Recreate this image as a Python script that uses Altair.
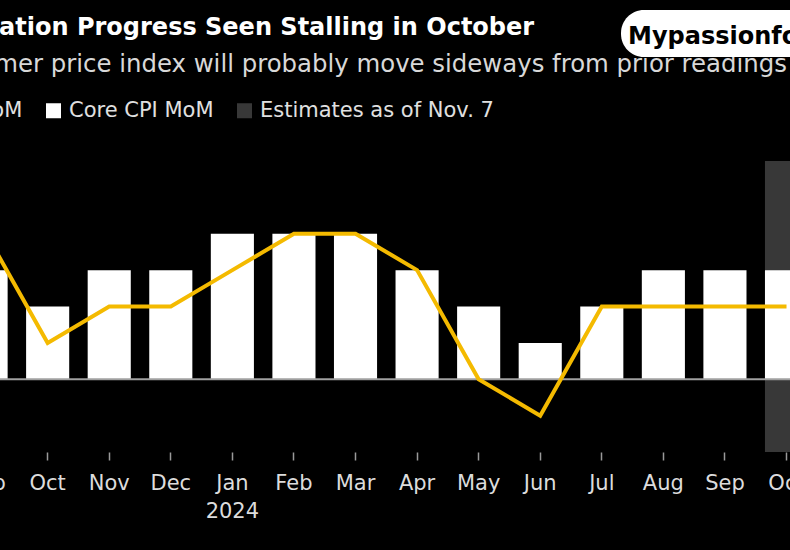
import altair as alt
import pandas as pd

# ---- data ----
months = ["Sep 2023", "Oct 2023", "Nov 2023", "Dec 2023", "Jan 2024", "Feb 2024",
          "Mar 2024", "Apr 2024", "May 2024", "Jun 2024", "Jul 2024", "Aug 2024",
          "Sep 2024", "Oct 2024"]
core_cpi = [0.3, 0.2, 0.3, 0.3, 0.4, 0.4, 0.4, 0.3, 0.2, 0.1, 0.2, 0.3, 0.3, 0.3]
cpi = [0.4, 0.1, 0.2, 0.2, 0.3, 0.4, 0.4, 0.3, 0.0, -0.1, 0.2, 0.2, 0.2, 0.2]
estimate_month = ["Oct 2024"]
estimate_top = [0.6]
estimate_bottom = [-0.2]
series_names = ["CPI MoM", "Core CPI MoM", "Estimates as of Nov. 7"]
series_colors = ["#F4BA00", "#FFFFFF", "#383838"]

title_text = "Inflation Progress Seen Stalling in October"
subtitle_text = "Consumer price index will probably move sideways from prior readings"
watermark_text = "Mypassionfo"

FONT = "DejaVu Sans"
W, H = 790, 452

bars_df = pd.DataFrame({"month": months, "value": core_cpi, "series": series_names[1]})
line_df = pd.DataFrame({"month": months, "value": cpi, "series": series_names[0]})
est_df = pd.DataFrame({"month": estimate_month, "top": estimate_top,
                       "bottom": estimate_bottom, "series": series_names[2]})

x_scale = alt.Scale(domain=months, range=[-44.7, 817.3], paddingInner=0.3, paddingOuter=0.15)
y_scale = alt.Scale(domain=[-0.2, 0.6], range=[452, 161], nice=False, zero=False)
color_scale = alt.Scale(domain=series_names, range=series_colors)

legend = alt.Legend(
    orient="none", legendX=-93, legendY=100, direction="horizontal",
    symbolType="square", symbolSize=225, symbolStrokeWidth=0, symbolOpacity=1,
    labelFont=FONT, labelFontSize=21, labelColor="#e0e0e0", labelOffset=5,
    columnPadding=20, padding=0, title=None, labelLimit=0,
)
color_enc = alt.Color("series:N", scale=color_scale, legend=legend)

x_axis = alt.Axis(
    title=None, domain=False, grid=False, ticks=True, tickColor="#9a9a9a",
    tickSize=8, tickWidth=1.5, labelFont=FONT, labelFontSize=21, labelAngle=0,
    labelColor="#dcdcdc", labelPadding=12, labelLineHeight=28,
    labelOverlap=False, labelFlush=False,
    labelExpr="indexof(datum.label, 'Jan') == 0 ? split(datum.label, ' ') : split(datum.label, ' ')[0]",
)

x_enc = alt.X("month:N", scale=x_scale, axis=x_axis)

shade = alt.Chart(est_df).mark_rect().encode(
    x=x_enc,
    y=alt.Y("top:Q", scale=y_scale, axis=None),
    y2="bottom:Q",
    color=color_enc,
)

bars = alt.Chart(bars_df).mark_bar().encode(
    x=x_enc,
    y=alt.Y("value:Q", scale=y_scale, axis=None),
    color=color_enc,
)

zero = alt.Chart(pd.DataFrame({"z": [0.0]})).mark_rule(color="#a0a0a0", strokeWidth=2).encode(
    y=alt.Y("z:Q", scale=y_scale, axis=None),
    x=alt.value(0), x2=alt.value(W),
)

line = alt.Chart(line_df).mark_line(strokeWidth=4).encode(
    x=x_enc,
    y=alt.Y("value:Q", scale=y_scale, axis=None),
    color=color_enc,
)


def text_layer(txt, x, y, size, weight, color):
    return alt.Chart(pd.DataFrame({"t": [txt]})).mark_text(
        align="left", baseline="alphabetic", font=FONT, fontSize=size,
        fontWeight=weight, color=color,
    ).encode(x=alt.value(x), y=alt.value(y), text="t:N")


title = text_layer(title_text, -44.7, 35, 24, "bold", "#ffffff")
subtitle = text_layer(subtitle_text, -81.4, 72, 24.4, "normal", "#d8d8d8")

wm_box = alt.Chart(pd.DataFrame({"b": [1]})).mark_rect(
    color="#ffffff", cornerRadius=23
).encode(x=alt.value(621), x2=alt.value(840), y=alt.value(10), y2=alt.value(57))
wm_text = text_layer(watermark_text, 628, 44, 24, "bold", "#000000")

chart = alt.layer(shade, bars, zero, line, title, subtitle, wm_box, wm_text).properties(
    width=W, height=H,
    autosize=alt.AutoSizeParams(type="none"),
    padding={"left": 0, "top": 0, "right": 0, "bottom": 98},
).configure(background="#000000").configure_view(stroke=None)

chart.save("out.html", embed_options={"renderer": "svg", "actions": False})
